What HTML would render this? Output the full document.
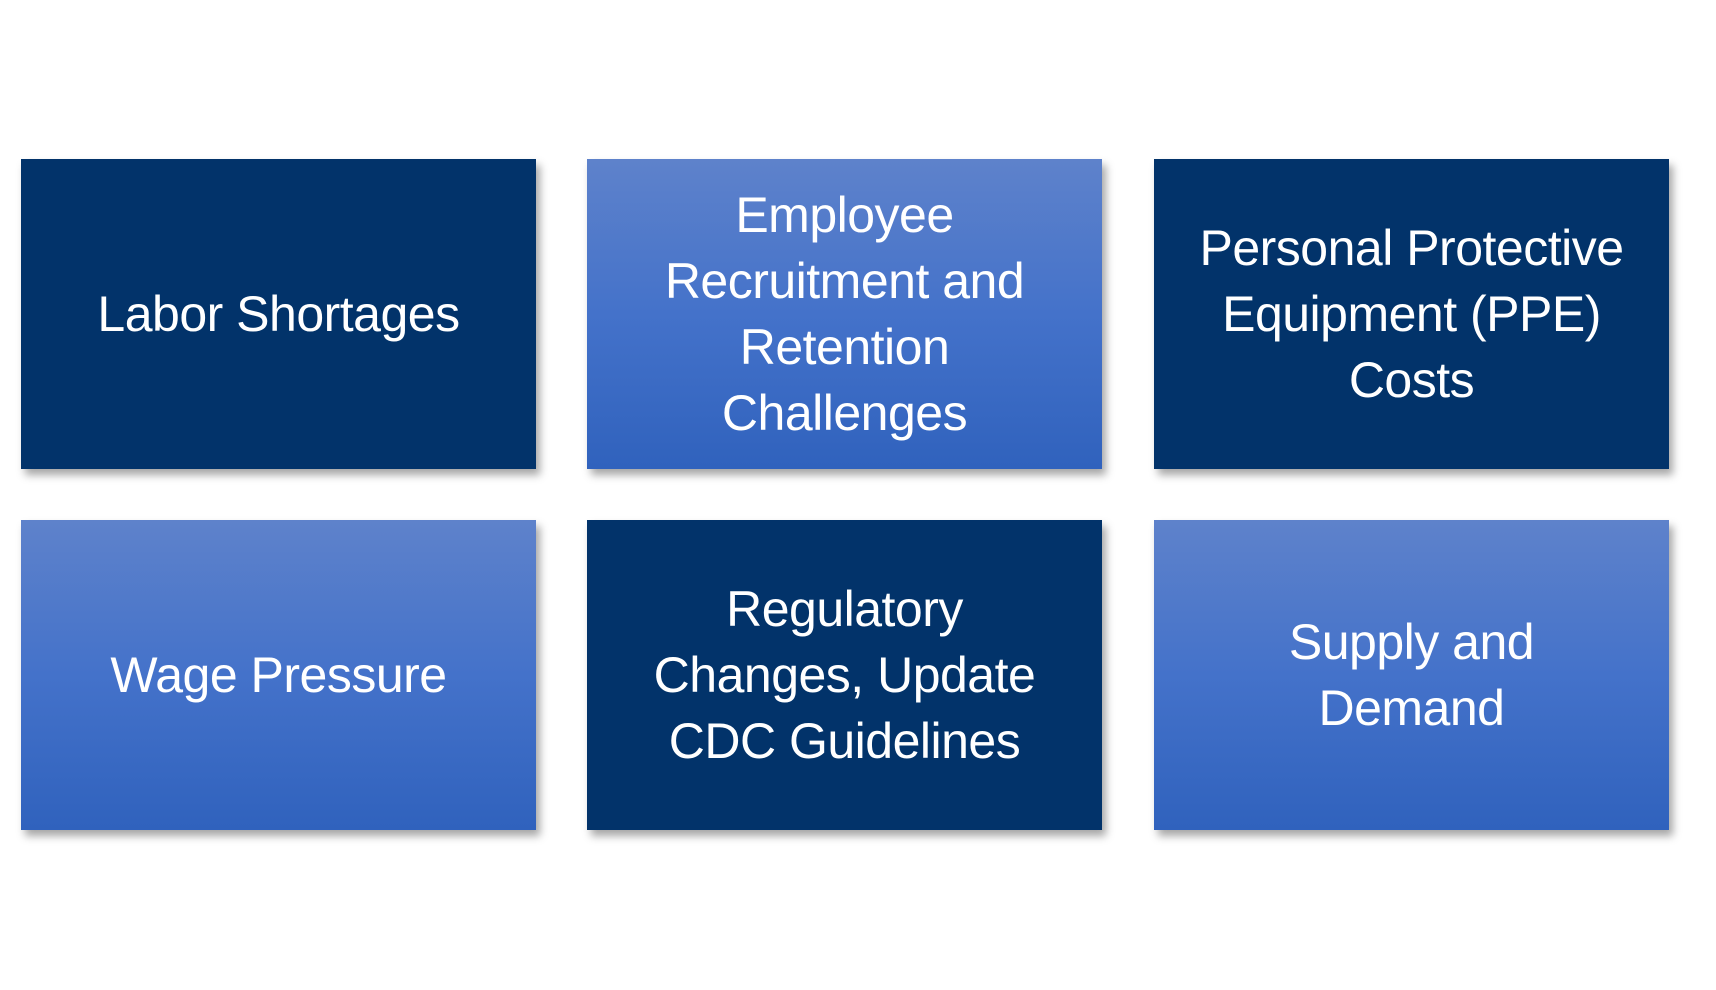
<!DOCTYPE html>
<html><head><style>
body{margin:0;width:1716px;height:990px;background:#fff;position:relative;overflow:hidden;font-family:"Liberation Sans",sans-serif}
.b{position:absolute;width:515px;height:310px;display:flex;align-items:center;justify-content:center;text-align:center;color:#fff;font-size:50px;line-height:66px;box-shadow:4px 6px 8px rgba(0,0,0,0.35);letter-spacing:-0.5px}
.d{background:#02336a}
.l{background:linear-gradient(#5e82cb,#4472ca 50%,#3062bd)}
</style></head><body>
<div class="b d" style="left:21px;top:159px">Labor Shortages</div>
<div class="b l" style="left:587px;top:159px">Employee<br>Recruitment and<br>Retention<br>Challenges</div>
<div class="b d" style="left:1154px;top:159px">Personal Protective<br>Equipment (PPE)<br>Costs</div>
<div class="b l" style="left:21px;top:520px">Wage Pressure</div>
<div class="b d" style="left:587px;top:520px">Regulatory<br>Changes, Update<br>CDC Guidelines</div>
<div class="b l" style="left:1154px;top:520px">Supply and<br>Demand</div>
</body></html>
